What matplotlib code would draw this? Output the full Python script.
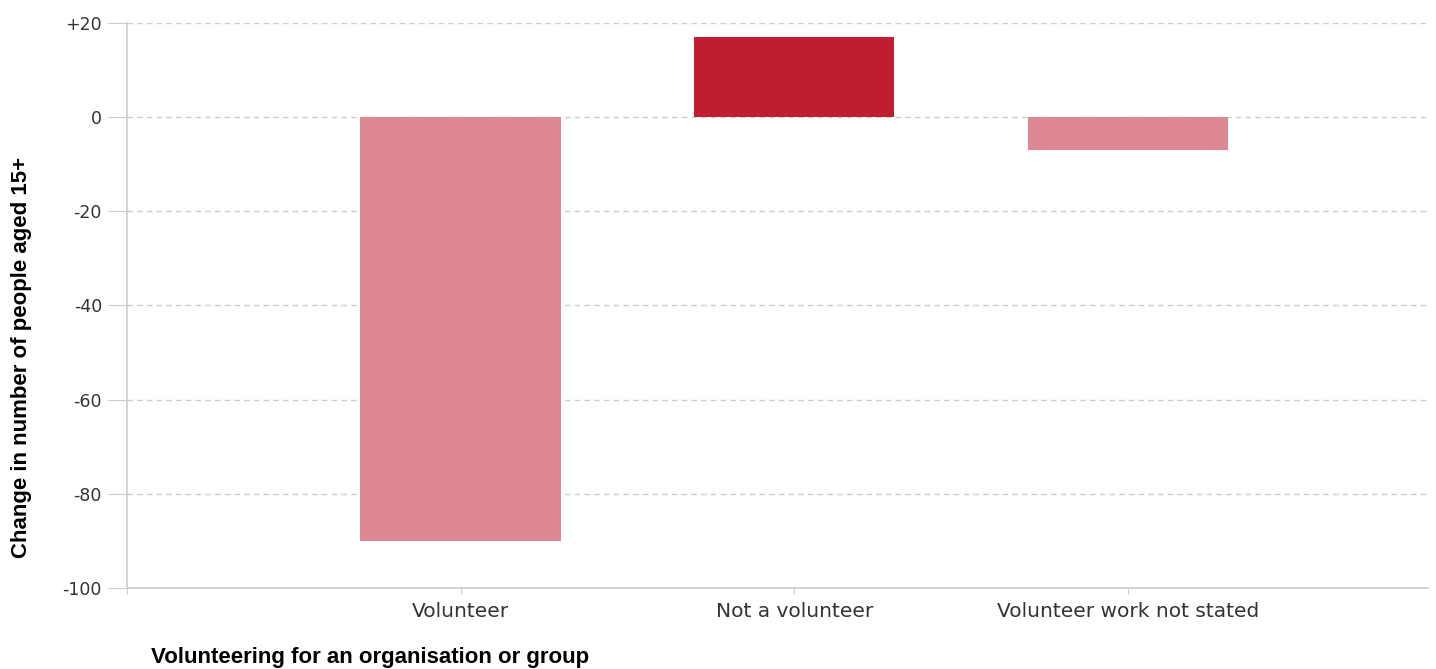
import numpy as np
import matplotlib
matplotlib.use("Agg")
import matplotlib.pyplot as plt

categories = ["Volunteer", "Not a volunteer", "Volunteer work not stated"]
changes = [-90, 17, -7]
bar_colors = ["#DE8896", "#BE1E2D", "#DE8896"]

y_ticks = [20, 0, -20, -40, -60, -80, -100]
y_tick_labels = ["+20", "0", "-20", "-40", "-60", "-80", "-100"]

fig = plt.figure(figsize=(14.36, 6.69), dpi=100)
ax = fig.add_axes([0.0884, 0.1211, 0.9944 - 0.0884, 0.9656 - 0.1211])

x = np.arange(len(categories))
ax.bar(x, changes, width=0.6, color=bar_colors, zorder=3)

ax.set_xlim(-1, 2.9)
ax.set_ylim(-100, 20)

ax.set_yticks(y_ticks)
ax.set_yticklabels(y_tick_labels, fontsize=12.5, color="#333333", family="DejaVu Sans")
ax.set_xticks([-1, 0, 1, 2])
ax.set_xticklabels([""] + categories, fontsize=14.5, color="#333333", family="DejaVu Sans")

ax.grid(axis="y", linestyle=(0, (4, 3)), color="#cccccc", linewidth=1, zorder=0)
ax.tick_params(axis="y", length=14, color="#cccccc", pad=4)
ax.tick_params(axis="x", length=4, color="#cccccc", pad=6)

for side in ["top", "right"]:
    ax.spines[side].set_visible(False)
for side in ["left", "bottom"]:
    ax.spines[side].set_color("#cccccc")
    ax.spines[side].set_linewidth(1.2)

fig.text(22 / 1436, 1 - 357 / 669, "Change in number of people aged 15+",
         rotation=90, ha="center", va="center", fontsize=16,
         fontweight="bold", family="Liberation Sans")
fig.text(151 / 1436, 1 - 658 / 669, "Volunteering for an organisation or group",
         ha="left", va="center", fontsize=16,
         fontweight="bold", family="Liberation Sans")

fig.savefig("out.png", dpi=100)
